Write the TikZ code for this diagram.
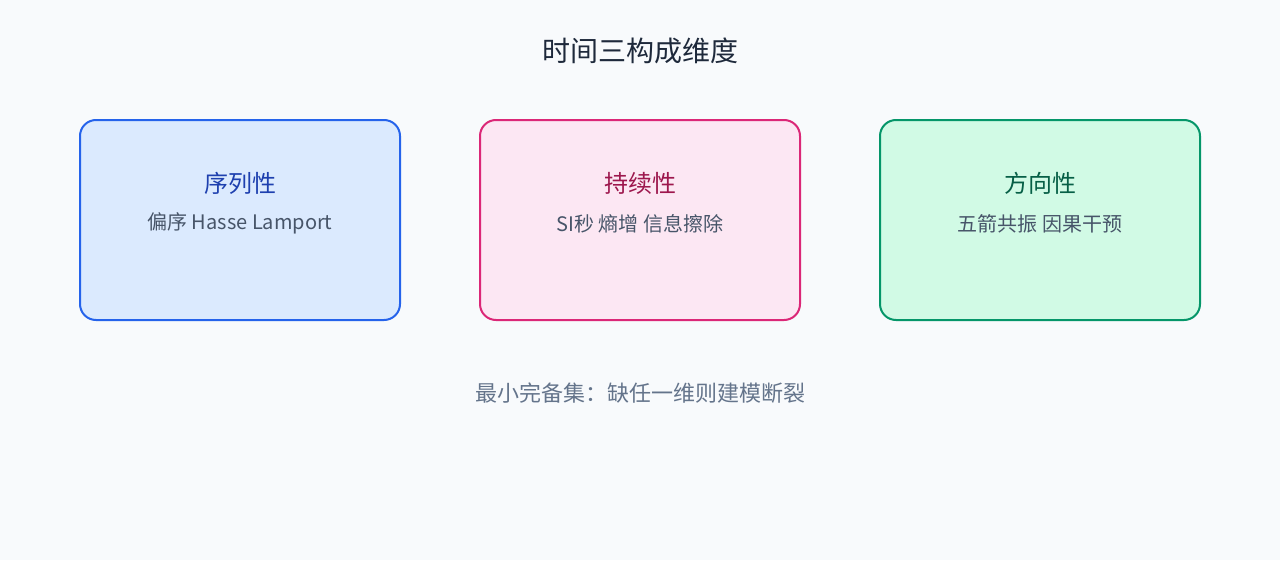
\documentclass[tikz,border=0pt]{standalone}
\usepackage{fontspec}
\setmainfont{Noto Sans CJK SC}
\usepackage{xcolor}
\definecolor{bgSlate}{HTML}{F8FAFC}
\definecolor{headInk}{HTML}{1E293B}
\definecolor{subInk}{HTML}{475569}
\definecolor{footInk}{HTML}{64748B}
\definecolor{seqFill}{HTML}{DBEAFE}
\definecolor{seqLine}{HTML}{2563EB}
\definecolor{seqInk}{HTML}{1E40AF}
\definecolor{durFill}{HTML}{FCE7F3}
\definecolor{durLine}{HTML}{DB2777}
\definecolor{durInk}{HTML}{9D174D}
\definecolor{dirFill}{HTML}{D1FAE5}
\definecolor{dirLine}{HTML}{059669}
\definecolor{dirInk}{HTML}{065F46}

\begin{document}
\begin{tikzpicture}[
	x=0.75pt, y=-0.75pt,
	card/.style={rectangle, rounded corners=12pt, line width=1.5pt,
		minimum width=240pt, minimum height=150pt, inner sep=0pt},
	heading/.style={font=\fontsize{21pt}{25pt}\selectfont, text=headInk},
	cardTitle/.style={font=\fontsize{18pt}{22pt}\selectfont},
	cardText/.style={font=\fontsize{15pt}{18pt}\selectfont, text=subInk},
	footer/.style={font=\fontsize{16.5pt}{20pt}\selectfont, text=footInk}
]
\fill[bgSlate] (0, 0) rectangle (1280, 560);
\useasboundingbox (0, 0) rectangle (1280, 560);

\node [heading] (head) at (640, 51) {时间三构成维度};

% Sequence
\node [card, draw=seqLine, fill=seqFill] (seq) at (240, 220) {};
\node [cardTitle, text=seqInk] (seqTitle) at (240, 183) {序列性};
\node [cardText] (seqText) at (240, 223.5) {偏序 Hasse Lamport};

% Duration
\node [card, draw=durLine, fill=durFill] (dur) at (640, 220) {};
\node [cardTitle, text=durInk] (durTitle) at (640, 183) {持续性};
\node [cardText] (durText) at (640, 223.5) {SI秒 熵增 信息擦除};

% Direction
\node [card, draw=dirLine, fill=dirFill] (dir) at (1040, 220) {};
\node [cardTitle, text=dirInk] (dirTitle) at (1040, 183) {方向性};
\node [cardText] (dirText) at (1040, 223.5) {五箭共振 因果干预};

\node [footer] (foot) at (640, 393) {最小完备集：缺任一维则建模断裂};
\end{tikzpicture}
\end{document}
